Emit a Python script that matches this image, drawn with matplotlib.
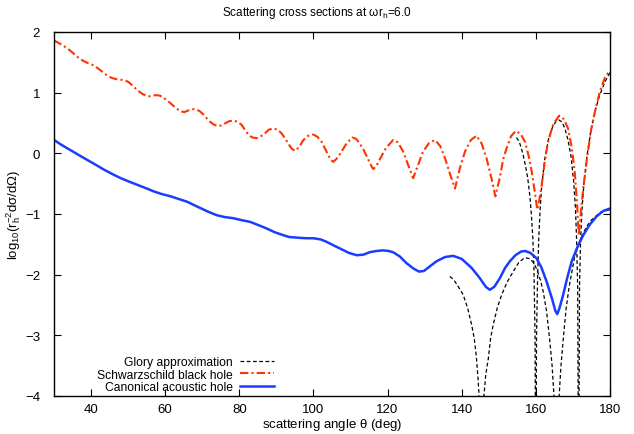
import matplotlib
matplotlib.use("Agg")
import matplotlib.pyplot as plt

plt.rcParams["font.family"] = ["Liberation Sans", "DejaVu Sans"]
plt.rcParams["mathtext.fontset"] = "custom"
plt.rcParams["mathtext.rm"] = "Liberation Sans"
plt.rcParams["mathtext.it"] = "Liberation Sans"

# Schwarzschild black hole (red dash-dot)
bh_theta = [30.0, 31.8, 33.6, 35.2, 36.7, 38.0, 39.4, 40.3, 41.2, 42.3, 43.5, 44.6,
            45.7, 47.0, 48.4, 49.3, 50.2, 51.3, 52.5, 53.8, 55.2, 56.3, 57.4, 58.6,
            59.7, 60.8, 61.9, 63.0, 64.2, 65.2, 66.4, 67.8, 69.2, 70.5, 71.3, 72.1,
            73.2, 74.3, 75.2, 76.1, 77.3, 78.4, 79.5, 80.6, 81.5, 82.4, 83.5, 84.7,
            85.8, 86.9, 88.0, 89.2, 90.3, 91.4, 92.3, 93.2, 94.1, 95.0, 96.1, 97.3,
            98.6, 100.0, 101.1, 102.2, 103.1, 104.0, 104.7, 105.4, 106.4, 107.6,
            109.0, 110.5, 111.5, 112.5, 113.5, 114.4, 115.3, 116.1, 116.9, 117.9,
            119.5, 121.5, 122.8, 124.2, 125.6, 126.9, 128.2, 129.6, 131.2, 132.8,
            134.2, 135.5, 136.9, 138.2, 139.5, 140.9, 142.5, 144.0, 145.4, 146.7,
            148.0, 149.1, 150.3, 151.2, 152.1, 153.3, 154.6, 155.9, 157.1, 158.1,
            158.9, 159.7, 160.4, 161.0, 161.6, 162.4, 163.3, 164.7, 166.3, 167.6,
            168.7, 169.7, 170.5, 171.1, 171.6, 172.2, 172.8, 173.9, 175.0, 176.2,
            177.3, 178.6, 180.0]
bh_val = [1.86, 1.80, 1.73, 1.65, 1.57, 1.52, 1.48, 1.46, 1.43, 1.38, 1.32, 1.27,
          1.24, 1.22, 1.21, 1.20, 1.17, 1.11, 1.04, 0.98, 0.94, 0.94, 0.96, 0.95,
          0.91, 0.86, 0.80, 0.74, 0.69, 0.68, 0.71, 0.73, 0.70, 0.63, 0.57, 0.52,
          0.47, 0.45, 0.46, 0.49, 0.53, 0.54, 0.52, 0.47, 0.39, 0.31, 0.26, 0.25,
          0.28, 0.33, 0.39, 0.41, 0.39, 0.33, 0.25, 0.16, 0.08, 0.04, 0.10, 0.22,
          0.29, 0.31, 0.27, 0.19, 0.08, -0.03, -0.11, -0.14, -0.08, 0.03,
          0.17, 0.26, 0.24, 0.16, 0.06, -0.05, -0.17, -0.26, -0.22, -0.10,
          0.08, 0.22, 0.18, 0.03, -0.20, -0.41, -0.20, 0.03, 0.17, 0.22,
          0.12, -0.08, -0.35, -0.58, -0.25, 0.03, 0.22, 0.29, 0.16, -0.08,
          -0.40, -0.71, -0.40, -0.10, 0.08, 0.28, 0.37, 0.32, 0.19, -0.05,
          -0.30, -0.62, -0.93, -0.75, -0.52, -0.15, 0.19, 0.48, 0.62, 0.56,
          0.41, 0.10, -0.30, -0.80, -1.35, -0.95, -0.58, -0.05, 0.41, 0.75,
          1.02, 1.24, 1.37]

# Canonical acoustic hole (blue solid)
ah_theta = [30.0, 32.0, 34.5, 37.0, 39.0, 41.0, 43.5, 46.0, 48.0, 50.0, 52.5, 55.0,
            57.0, 59.0, 61.5, 64.0, 66.0, 68.0, 69.4, 71.5, 73.9, 76.0, 78.4, 80.5,
            82.9, 85.0, 87.4, 89.5, 91.9, 93.5, 95.5, 98.0, 100.0, 102.0, 103.6,
            105.5, 107.2, 109.5, 111.7, 113.5, 115.2, 117.0, 118.8, 120.3, 121.5,
            123.3, 125.1, 127.0, 128.5, 129.8, 131.5, 133.2, 135.5, 137.7, 140.0,
            142.7, 144.8, 146.5, 147.6, 148.8, 150.3, 151.7, 153.0, 154.5, 156.0,
            157.1, 158.5, 160.2, 161.5, 162.9, 164.3, 165.3, 165.8, 166.4, 167.4,
            168.5, 169.7, 171.2, 172.8, 174.5, 176.4, 178.2, 180.0]
ah_val = [0.22, 0.14, 0.05, -0.04, -0.11, -0.18, -0.27, -0.35, -0.41, -0.46, -0.52, -0.58,
          -0.63, -0.67, -0.71, -0.76, -0.80, -0.86, -0.90, -0.96, -1.02, -1.05, -1.07, -1.10,
          -1.13, -1.18, -1.24, -1.30, -1.35, -1.38, -1.39, -1.40, -1.40, -1.42, -1.46,
          -1.52, -1.57, -1.64, -1.68, -1.67, -1.63, -1.61, -1.60, -1.61, -1.63,
          -1.70, -1.81, -1.90, -1.95, -1.94, -1.86, -1.78, -1.71, -1.69, -1.74,
          -1.89, -2.05, -2.20, -2.25, -2.20, -2.06, -1.89, -1.78, -1.68, -1.62,
          -1.61, -1.64, -1.73, -1.88, -2.11, -2.38, -2.60, -2.65, -2.55, -2.33,
          -2.05, -1.78, -1.55, -1.35, -1.18, -1.04, -0.95, -0.91]

# Glory approximation (black dashed), two pieces
glory_ah_theta = [136.8, 137.8, 138.8, 140.4, 141.6, 142.7, 143.4, 144.0, 144.4, 144.7,
                  145.3, 146.0, 146.5, 147.2, 147.8, 148.5, 149.6, 150.8, 152.3, 153.9,
                  155.5, 157.1, 158.5, 159.6, 160.5, 161.3, 162.0, 162.9, 163.8, 164.4,
                  164.9, 165.6, 166.3, 166.8, 167.5, 168.2, 169.0, 170.5, 171.5, 172.5,
                  173.8, 175.0, 177.5, 180.0]
glory_ah_val = [-2.03, -2.08, -2.17, -2.33, -2.55, -2.83, -3.05, -3.38, -3.70, -4.0,
                -6.0, -4.0, -3.65, -3.38, -3.05, -2.83, -2.55, -2.33, -2.12, -1.95,
                -1.79, -1.72, -1.74, -1.82, -1.95, -2.10, -2.28, -2.60, -3.10, -3.50,
                -4.0, -6.0, -4.0, -3.50, -3.0, -2.55, -2.20, -1.70, -1.50, -1.35,
                -1.20, -1.10, -0.97, -0.93]

glory_bh_theta = [154.8, 155.6, 156.5, 157.2, 157.8, 158.4, 158.8, 159.2, 159.5, 159.8,
                  160.0, 160.2, 160.5, 160.8, 161.2, 161.6, 162.4, 163.5, 164.5, 165.5,
                  166.2, 167.0, 167.8, 168.7, 169.5, 170.2, 170.7, 171.0, 171.3, 171.55,
                  171.8, 172.1, 172.5, 173.0, 173.8, 174.8, 176.0, 177.2, 178.6, 180.0]
glory_bh_val = [0.26, 0.18, 0.0, -0.20, -0.40, -0.70, -1.0, -1.40, -1.90, -3.0,
                -6.0, -3.0, -2.0, -1.40, -0.90, -0.55, -0.10, 0.25, 0.43, 0.53,
                0.55, 0.52, 0.42, 0.22, -0.05, -0.45, -0.90, -1.40, -2.20, -6.0,
                -2.20, -1.40, -0.90, -0.50, -0.05, 0.35, 0.70, 0.95, 1.17, 1.33]

fig = plt.figure(figsize=(6.34, 4.35), dpi=100)
ax = fig.add_axes([0.0852, 0.0874, 0.8768, 0.8368])

ax.plot(glory_ah_theta, glory_ah_val, color="black", lw=0.9, dashes=(3, 2),
        label="Glory approximation")
ax.plot(glory_bh_theta, glory_bh_val, color="black", lw=0.9, dashes=(3, 2))
ax.plot(bh_theta, bh_val, color="#ff3300", lw=1.5, dashes=(4, 1.5, 1, 1.5),
        label="Schwarzschild black hole")
ax.plot(ah_theta, ah_val, color="#1a3cff", lw=1.8, label="Canonical acoustic hole")

ax.set_xlim(30, 180)
ax.set_ylim(-4, 2)
ax.set_xticks([40, 60, 80, 100, 120, 140, 160, 180])
ax.set_yticks([-4, -3, -2, -1, 0, 1, 2])
ax.tick_params(direction="in", length=5, width=0.8, top=True, right=True,
               labelsize=9.5, pad=5)
ax.tick_params(axis="y", pad=10)
for s in ax.spines.values():
    s.set_linewidth(1.0)

# title is centred on the canvas, not on the axes
fig.text(0.5, 1 - 13 / 435, r"Scattering cross sections at $\omega$r$_\mathrm{h}$=6.0",
         fontsize=8.5, ha="center", va="center")
ax.set_xlabel(r"scattering angle $\theta$ (deg)", fontsize=9.5, labelpad=1)
ax.set_ylabel(r"log$_{10}$(r$_\mathrm{h}^{-2}$d$\sigma$/d$\Omega$)", fontsize=9.5, labelpad=1)

ax.legend(loc="lower left", bbox_to_anchor=(0.058, -0.022), frameon=False,
          markerfirst=False, fontsize=8.7, handlelength=2.8, labelspacing=0.05,
          handletextpad=0.6)

fig.savefig("out.png", dpi=100)
